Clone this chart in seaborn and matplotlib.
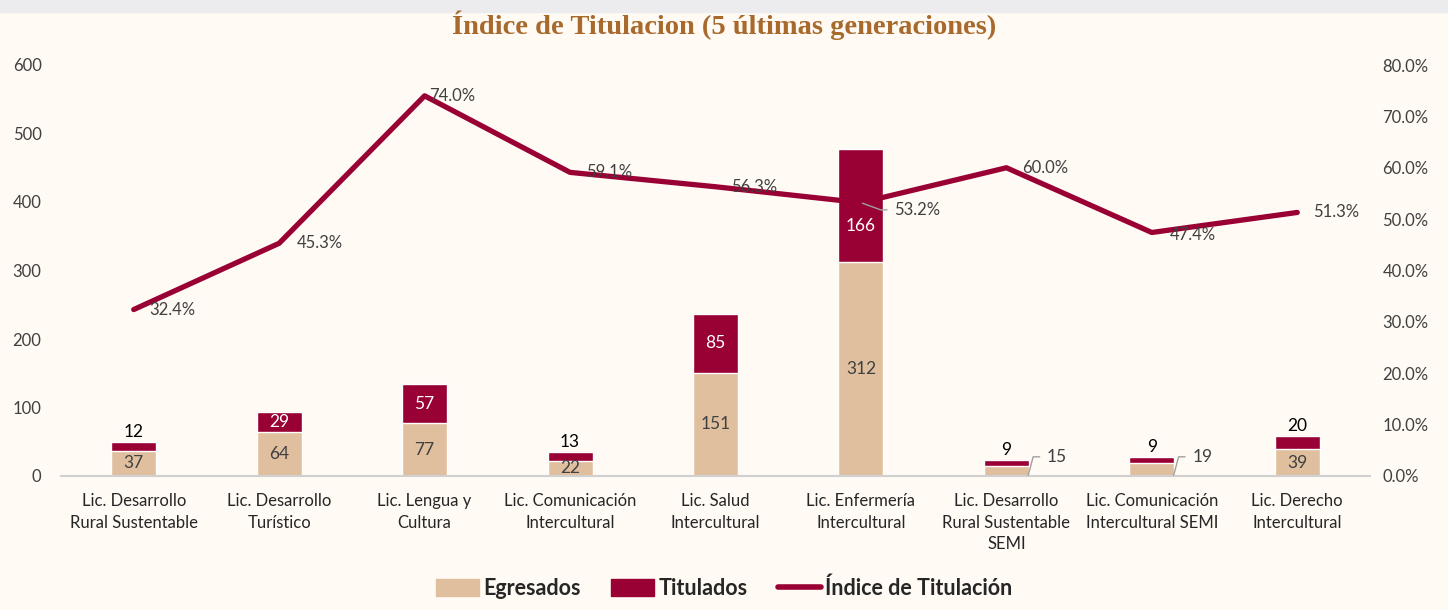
import numpy as np
import pandas as pd
import matplotlib
matplotlib.use('Agg')
import matplotlib.pyplot as plt
import seaborn as sns
from matplotlib.patches import Patch, Rectangle
from matplotlib.lines import Line2D

# data
carreras = ['Lic. Desarrollo\nRural Sustentable', 'Lic. Desarrollo\nTurístico', 'Lic. Lengua y\nCultura',
            'Lic. Comunicación\nIntercultural', 'Lic. Salud\nIntercultural', 'Lic. Enfermería\nIntercultural',
            'Lic. Desarrollo\nRural Sustentable\nSEMI', 'Lic. Comunicación\nIntercultural SEMI',
            'Lic. Derecho\nIntercultural']
egresados = [37, 64, 77, 22, 151, 312, 15, 19, 39]
titulados = [12, 29, 57, 13, 85, 166, 9, 9, 20]
indice = [32.4, 45.3, 74.0, 59.1, 56.3, 53.2, 60.0, 47.4, 51.3]

tan = '#E0BF9F'
red = '#990033'
bg = '#FFFAF3'
txt = '#404040'

df = pd.DataFrame({'carrera': carreras, 'egresados': egresados, 'titulados': titulados})
df['total'] = df['egresados'] + df['titulados']

sns.set_theme(style='white')
plt.rcParams['font.family'] = ['Lato', 'DejaVu Sans']

fig = plt.figure(figsize=(14.48, 6.1), dpi=100, facecolor=bg)
fig.patches.append(Rectangle((0, 1 - 12/610), 1, 12/610, transform=fig.transFigure,
                             color='#ECECEE', zorder=0))
ax = fig.add_axes([61/1448, 1 - 476/610, (1370 - 61)/1448, (476 - 65)/610])
ax.set_facecolor(bg)

# stacked bars: total in red, egresados on top in tan
sns.barplot(data=df, x='carrera', y='total', color=red, width=0.31, saturation=1, ax=ax)
sns.barplot(data=df, x='carrera', y='egresados', color=tan, width=0.31, saturation=1, ax=ax)
ax.set_ylim(0, 600)
ax.set_xlim(-0.5, 8.5)
ax.set_yticks(range(0, 601, 100))
ax.set_xlabel('')
ax.set_ylabel('')
for s in ['top', 'left', 'right']:
    ax.spines[s].set_visible(False)
ax.spines['bottom'].set_color('#D0D0D0')
ax.spines['bottom'].set_linewidth(1.5)
ax.tick_params(axis='y', length=0, pad=14, labelsize=12, labelcolor=txt)
ax.tick_params(axis='x', length=0, pad=12, labelsize=12, labelcolor='#262626')
for lbl in ax.get_xticklabels():
    lbl.set_linespacing(1.45)

# value labels
for i in range(len(carreras)):
    e, t = egresados[i], titulados[i]
    if e >= 20:
        ax.text(i, e / 2, str(e), ha='center', va='center', fontsize=12.5, color=txt)
    else:
        ax.annotate(str(e), xy=(i + 0.15, 1), xytext=(i + 0.28, 28),
                    ha='left', va='center', fontsize=12.5, color=txt,
                    arrowprops=dict(arrowstyle='-', color='#A0A0A0', lw=1,
                                    connectionstyle='angle,angleA=0,angleB=75,rad=0',
                                    shrinkA=3, shrinkB=0))
    if t >= 25:
        ypos = e + t / 2 if t < 100 else e + t * 0.32
        ax.text(i, ypos, str(t), ha='center', va='center', fontsize=12.5, color='white')
    else:
        ax.text(i, e + t + 3, str(t), ha='center', va='bottom', fontsize=12.5, color='black')

# index line on the right axis
ax2 = ax.twinx()
ax2.set_position(ax.get_position())
sns.lineplot(x=np.arange(len(indice)), y=np.array(indice) / 100, color=red, lw=3.8, ax=ax2)
ax2.set_ylim(0, 0.8)
ax2.set_yticks(np.arange(0, 0.81, 0.1))
ax2.set_yticklabels([f'{v*100:.1f}%' for v in np.arange(0, 0.81, 0.1)])
ax2.tick_params(axis='y', length=0, pad=9, labelsize=12, labelcolor=txt)
for s in ax2.spines.values():
    s.set_visible(False)
ax2.set_ylabel('')

offsets = [(0.11, 0.0), (0.12, 0.0), (0.03, 0.0), (0.11, 0.0), (0.11, 0.0),
           (0.23, -0.014), (0.11, 0.0), (0.12, -0.005), (0.11, 0.0)]
for i, v in enumerate(indice):
    dx, dy = offsets[i]
    if i == 5:
        ax2.annotate(f'{v:.1f}%', xy=(i + 0.01, v / 100 - 0.001), xytext=(i + dx, v / 100 + dy),
                     ha='left', va='center', fontsize=12, color=txt,
                     arrowprops=dict(arrowstyle='-', color='#A0A0A0', lw=1,
                                     connectionstyle='angle,angleA=0,angleB=-20,rad=0',
                                     shrinkA=3, shrinkB=0))
    else:
        ax2.text(i + dx, v / 100 + dy, f'{v:.1f}%', ha='left', va='center', fontsize=12, color=txt)

fig.text(0.5, 1 - 25/610, 'Índice de Titulacion (5 últimas generaciones)', ha='center', va='center',
         fontsize=20.5, fontweight='bold', color='#A8692C', family=['Liberation Serif', 'DejaVu Serif'])

handles = [Patch(color=tan, label='Egresados'), Patch(color=red, label='Titulados'),
           Line2D([0], [0], color=red, lw=4, label='Índice de Titulación')]
fig.legend(handles=handles, loc='center', bbox_to_anchor=(0.5, 1 - 588/610), ncol=3, frameon=False,
           prop={'weight': 'bold', 'size': 15.5}, handlelength=2.0, handleheight=0.8,
           handletextpad=0.2, columnspacing=1.4)

fig.savefig('out.png', dpi=100, facecolor=bg)
